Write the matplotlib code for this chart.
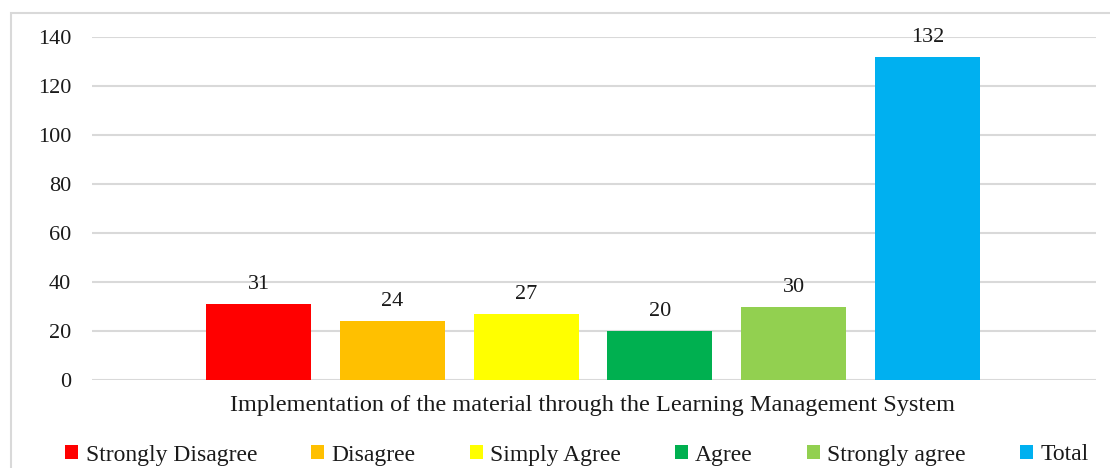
import matplotlib.pyplot as plt
from matplotlib.patches import Rectangle

categories = ["Strongly Disagree", "Disagree", "Simply Agree", "Agree", "Strongly agree", "Total"]
values = [31, 24, 27, 20, 30, 132]
colors = ["#FF0000", "#FFC000", "#FFFF00", "#00B050", "#92D050", "#00B0F0"]
group_label = "Implementation of the material through the Learning Management System"
yticks = [0, 20, 40, 60, 80, 100, 120, 140]

plt.rcParams['font.family'] = ['Liberation Serif', 'DejaVu Serif']

W, H = 1110, 468
fig = plt.figure(figsize=(W / 100, H / 100), dpi=100)
ax = fig.add_axes([92 / W, 1 - 380 / H, (1096 - 92) / W, (380 - 37) / H])

# outer chart border
fig.patches.append(Rectangle((11 / W, -0.1), 1.2, 1 - 13 / H + 0.1, transform=fig.transFigure,
                             fill=False, edgecolor="#D9D9D9", linewidth=1.5))

x = range(len(values))
bars = ax.bar(x, values, width=0.785, color=colors, label=categories, zorder=3)
for xi, v in zip(x, values):
    ax.annotate(str(v), (xi, v), xytext=(0, 7), textcoords="offset points",
                ha="center", va="bottom", fontsize=16, color="#1a1a1a")

ax.set_xlim(-1.245, 6.26)
ax.set_ylim(0, 140)
ax.set_yticks(yticks)
ax.tick_params(axis="y", length=0, labelsize=16, pad=15, labelcolor="#1a1a1a")
ax.set_xticks([])
ax.grid(axis="y", color="#D9D9D9", linewidth=1.5, zorder=0)
for s in ax.spines.values():
    s.set_visible(False)

fig.text(593 / W, 1 - 406 / H, group_label, ha="center", va="center", fontsize=17.5, color="#1a1a1a")

fig.legend(handles=bars, labels=categories, loc="center", bbox_to_anchor=(577 / W, 1 - 455 / H),
           ncol=6, frameon=False, fontsize=17, handlelength=0.55, handleheight=0.55,
           handletextpad=0.3, columnspacing=2.3, labelcolor="#1a1a1a")

fig.savefig("out.png", dpi=100)
